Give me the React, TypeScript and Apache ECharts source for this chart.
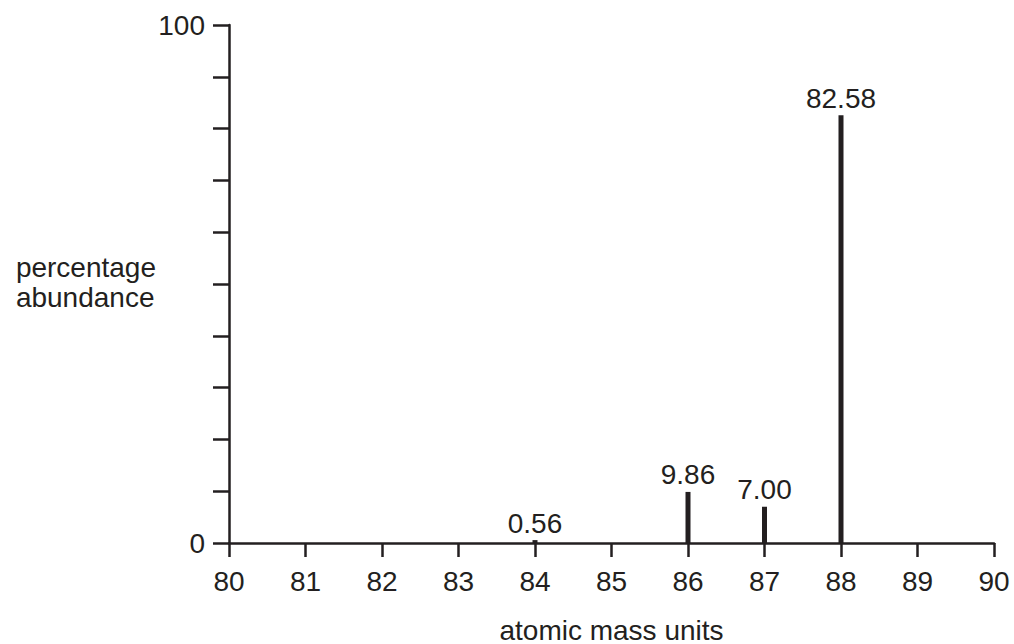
import React, { useEffect, useRef } from "react";
import * as echarts from "echarts";

const masses = [84, 86, 87, 88];
const abundances = [0.56, 9.86, 7.0, 82.58];
const valueLabels = ["0.56", "9.86", "7.00", "82.58"];
const yLabelsShown = [0, 100];

const INK = "#231f20";
const FONT = "Liberation Sans, Arial, sans-serif";
const FS = 28;

export default function App() {
  const ref = useRef<HTMLDivElement>(null);
  useEffect(() => {
    const chart = echarts.init(ref.current!, null, { renderer: "svg" });
    chart.setOption({
      animation: false,
      backgroundColor: "#ffffff",
      grid: {
        left: 229,
        right: 20,
        top: 25,
        bottom: 101,
        containLabel: false,
        outerBoundsMode: "none",
      },
      xAxis: {
        type: "value",
        min: 80,
        max: 90,
        interval: 1,
        axisLine: { show: true, onZero: false, lineStyle: { color: INK, width: 2.5 } },
        axisTick: { show: true, length: 14, lineStyle: { color: INK, width: 2.5 } },
        axisLabel: { color: INK, fontSize: FS, fontFamily: FONT, margin: 24 },
        splitLine: { show: false },
        name: "atomic mass units",
        nameLocation: "middle",
        nameGap: 73,
        nameTextStyle: { color: INK, fontSize: FS, fontFamily: FONT },
      },
      yAxis: {
        type: "value",
        min: 0,
        max: 100,
        interval: 10,
        axisLine: { show: true, lineStyle: { color: INK, width: 2.5 } },
        axisTick: { show: true, length: 16, lineStyle: { color: INK, width: 2.5 } },
        axisLabel: {
          color: INK,
          fontSize: FS,
          fontFamily: FONT,
          margin: 24,
          formatter: (v: number) => (yLabelsShown.includes(v) ? String(v) : ""),
        },
        splitLine: { show: false },
      },
      graphic: [
        {
          type: "text",
          right: 1014 - 156,
          top: 252,
          style: {
            text: "percentage\nabundance",
            fill: INK,
            font: `${FS}px ${FONT}`,
            align: "right",
            lineHeight: 30,
          },
        },
      ],
      series: [
        {
          type: "bar",
          barWidth: 5,
          data: masses.map((m, i) => [m, abundances[i]]),
          itemStyle: { color: INK },
          label: {
            show: true,
            position: "top",
            distance: 3,
            color: INK,
            fontSize: FS,
            fontFamily: FONT,
            formatter: (p: any) => valueLabels[p.dataIndex],
          },
        },
      ],
    });
    return () => chart.dispose();
  }, []);
  return <div ref={ref} style={{ width: 1014, height: 644, position: "absolute", left: 0, top: 0 }} />;
}
